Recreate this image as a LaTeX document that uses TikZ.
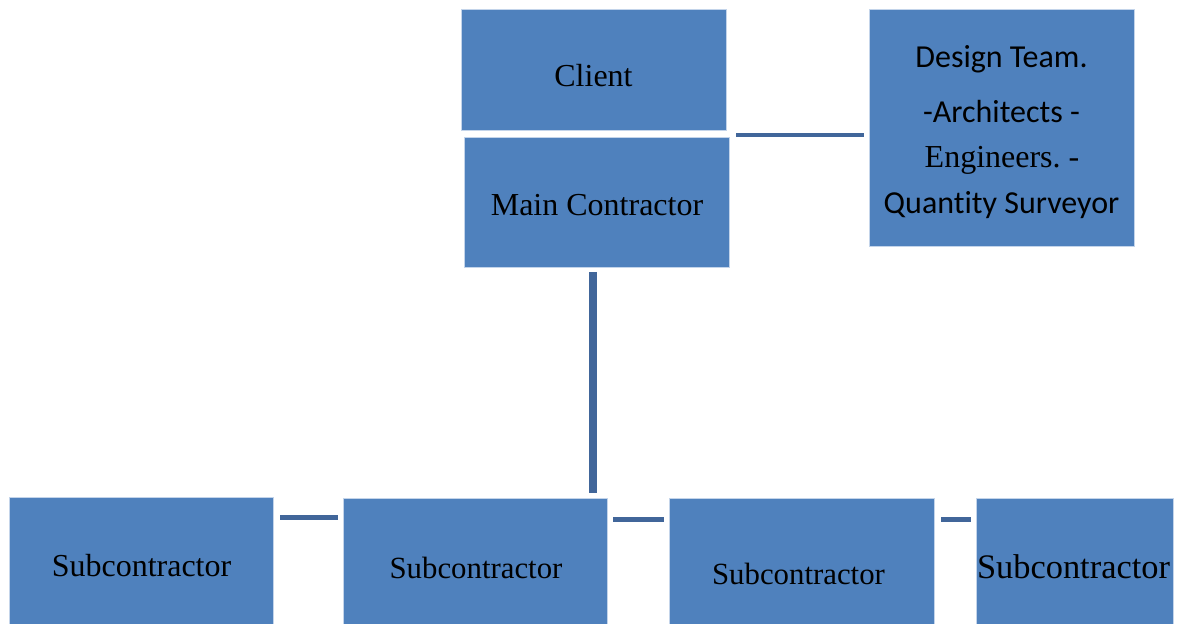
\documentclass[tikz,border=0pt]{standalone}
\usepackage{fontspec}
\setmainfont{Liberation Serif}
\newfontfamily\calfont[Ligatures=NoCommon]{Carlito}
\usetikzlibrary{calc}
\definecolor{boxblue}{HTML}{4F81BD}
\definecolor{edgeblue}{HTML}{C3D4EA}
\definecolor{linkblue}{HTML}{41669A}
\tikzset{
  unitbox/.style={rectangle, fill=boxblue, draw=edgeblue, line width=0.5pt,
    inner sep=0pt, anchor=north west},
  lbl/.style={anchor=base, inner sep=0pt, text=black,
    font=\fontsize{16}{19}\selectfont},
  callbl/.style={lbl, font=\calfont\fontsize{16}{19}\selectfont},
  link/.style={draw=linkblue, line width=#1},
  link/.default=2.5pt
}
\frenchspacing
\begin{document}
\begin{tikzpicture}[x=0.5pt, y=-0.5pt]
\useasboundingbox (0,0) rectangle (1183,624);

% upper tier
\node[unitbox, minimum width=132.5pt, minimum height=60.5pt] (client) at (461,9) {};
\node[unitbox, minimum width=132.5pt, minimum height=65pt] (mc) at (464,137) {};
\node[unitbox, minimum width=132.5pt, minimum height=118.5pt] (dt) at (869,9) {};

% lower tier (runs off the bottom edge)
\node[unitbox, minimum width=132pt, minimum height=70pt] (s1) at (9,497) {};
\node[unitbox, minimum width=132pt, minimum height=70pt] (s2) at (343,498) {};
\node[unitbox, minimum width=132.5pt, minimum height=70pt] (s3) at (669,498) {};
\node[unitbox, minimum width=98.5pt, minimum height=70pt] (s4) at (976,498) {};

% labels
\node[lbl] (clientText) at (593.5,87) {Client};
\node[lbl] (mcText) at (597,215.5) {Main Contractor};
\node[callbl] (dtA) at (1001.5,68) {Design Team.};
\node[callbl] (dtB) at (1001.5,122.5) {-Architects -};
\node[lbl] (dtC) at (1002,168) {Engineers. -};
\node[callbl] (dtD) at (1001.5,213.5) {Quantity Surveyor};
\node[lbl] (s1Text) at (141.5,576) {Subcontractor};
\node[lbl, font=\fontsize{15.4}{18}\selectfont] (s2Text) at (476,578.5) {Subcontractor};
\node[lbl, font=\fontsize{15.4}{18}\selectfont] (s3Text) at (798.5,584.5) {Subcontractor};
\node[lbl, font=\fontsize{17.2}{20}\selectfont] (s4Text) at (1073.5,579) {Subcontractor};

% connectors
\coordinate (topJoin) at (736,135);
\draw[link=2pt] (topJoin) -- ($(topJoin -| dt.west)+(-5,0)$);

\coordinate (mcFoot) at (593,272);
\coordinate (subHead) at (593,493);
\draw[link=4pt] (mcFoot) -- (subHead);

\draw[link] ($(s1.north east)+(6,21)$) -- ($(s2.north west)+(-5,20)$);
\draw[link] ($(s2.north east)+(5,22)$) -- ($(s3.north west)+(-5,22)$);
\draw[link] ($(s3.north east)+(6,22)$) -- ($(s4.north west)+(-5,22)$);
\end{tikzpicture}
\end{document}
